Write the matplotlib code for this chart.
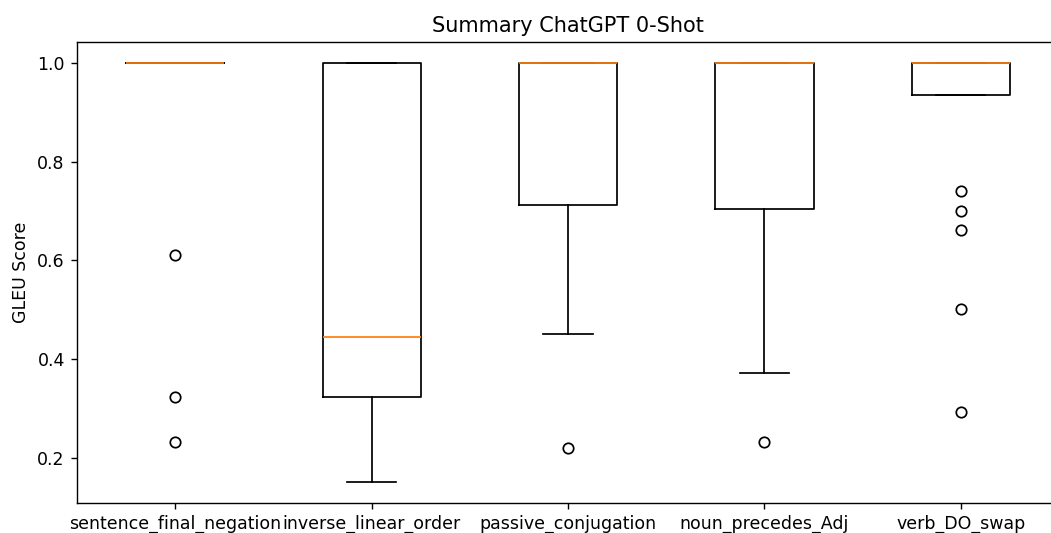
import matplotlib
matplotlib.use('Agg')
import matplotlib.pyplot as plt

# task names and box statistics
tasks = ['sentence_final_negation', 'inverse_linear_order', 'passive_conjugation',
         'noun_precedes_Adj', 'verb_DO_swap']
q1s = [1.0, 0.323, 0.713, 0.705, 0.935]
medians = [1.0, 0.444, 1.0, 1.0, 1.0]
q3s = [1.0, 1.0, 1.0, 1.0, 1.0]
whislo = [1.0, 0.151, 0.450, 0.372, 0.935]
whishi = [1.0, 1.0, 1.0, 1.0, 1.0]
fliers = [[0.61, 0.323, 0.232],
          [],
          [0.22],
          [0.232],
          [0.741, 0.701, 0.661, 0.501, 0.293]]

stats = []
for i in range(len(tasks)):
    stats.append({'label': tasks[i], 'q1': q1s[i], 'med': medians[i], 'q3': q3s[i],
                  'whislo': whislo[i], 'whishi': whishi[i], 'fliers': fliers[i]})

DPI = 125
fig = plt.figure(figsize=(1051/DPI, 533/DPI), dpi=DPI)
ax = fig.add_axes([77/1051, 30/533, 982/1051, 461/533])
ax.bxp(stats, showfliers=True)
ax.set_title('Summary ChatGPT 0-Shot')
ax.set_ylabel('GLEU Score')

fig.savefig('out.png', dpi=DPI)
